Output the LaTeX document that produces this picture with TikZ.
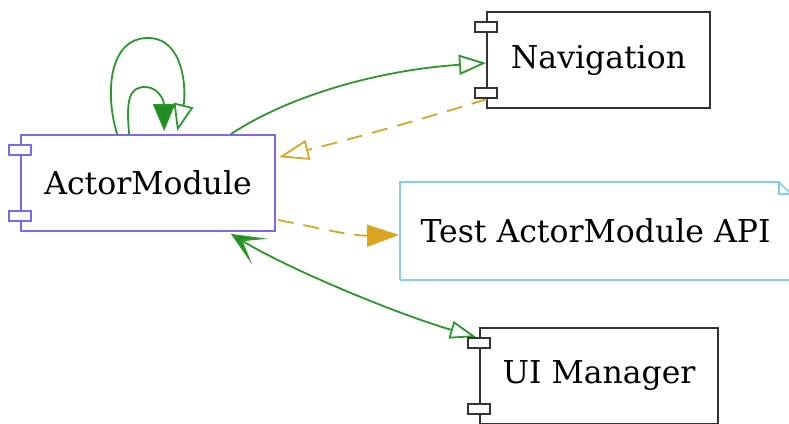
\documentclass[tikz,border=0pt]{standalone}
\usepackage{fontspec}
\setmainfont{DejaVu Serif}
\usetikzlibrary{arrows.meta,positioning,calc}
\definecolor{depgreen}{HTML}{2A992A}
\definecolor{headgreen}{HTML}{228B22}
\definecolor{deporange}{HTML}{DAA520}
\definecolor{modpurple}{HTML}{7B68EE}
\definecolor{testblue}{HTML}{87CEEB}
\definecolor{compgrey}{HTML}{333333}
\tikzset{
  component/.style={rectangle, draw=compgrey, line width=2pt, minimum height=96pt, inner sep=0pt, font=\fontsize{31.5}{36}\selectfont},
  port/.style={rectangle, draw=compgrey, line width=1.8pt, fill=white, minimum width=22pt, minimum height=10pt, inner sep=0pt},
  uses/.style={draw=depgreen, line width=1.8pt},
  tests/.style={draw=deporange, line width=1.8pt, dash pattern=on 16pt off 10pt},
  opengreen/.style={-{Triangle[open, fill=white, length=27pt, width=20pt]}},
  opengold/.style={-{Triangle[open, fill=white, length=30pt, width=20pt]}}
}
\newcommand{\compports}[2]{%
  \node (#1-pa) [port, draw=#2] at ($(#1.north west)+(0,16)$) {};
  \node (#1-pb) [port, draw=#2] at ($(#1.south west)+(0,-16)$) {};}
\begin{document}
\begin{tikzpicture}[x=1pt, y=-1pt]
  \useasboundingbox (0,0) rectangle (789,423);

  \node (am) [component, draw=modpurple, line width=1.7pt, minimum width=254pt] at (148,183) {ActorModule};
  \node (nav) [component, minimum width=223pt] at (598.5,60) {Navigation};
  \node (ui) [component, minimum width=238pt] at (599,376) {UI Manager};
  \node (test) [component, draw=none, minimum width=389pt] at (595.5,231) {Test ActorModule API};
  \draw [testblue, line width=1.7pt] (test.south west) |- ($(test.north east)+(-12,0)$)
    -- ($(test.north east)+(0,12)$) |- (test.south west);
  \draw [testblue, line width=1.7pt] ($(test.north east)+(-12,0)$) |- ($(test.north east)+(0,12)$);

  % self loops
  \draw [uses, opengreen] ($(am.north west)+(97,0)$) .. controls (105,95) and (108,38) .. (148,38)
    .. controls (186,38) and (186,95) .. ($(am.north west)+(157,-3)$);
  \draw [uses, -{Triangle[fill=headgreen, length=27pt, width=22pt]}] ($(am.north west)+(109,0)$)
    .. controls (126,100) and (129,87) .. (145,87) .. controls (158,87) and (164,100) .. ($(am.north west)+(144,-3)$);

  % dependencies
  \draw [uses, opengreen] ($(am.north east)+(-45,0)$) .. controls (290,95) and (380,70) .. ($(nav.west)+(0,3)$);
  \draw [tests, opengold] ($(nav.south west)+(1,-10)$) .. controls (420,120) and (340,142) .. ($(am.north east)+(3,23)$);
  \draw [tests, -{Triangle[fill=deporange, length=32pt, width=22pt]}] ($(am.east)+(2,37)$)
    .. controls (320,228) and (350,236) .. ($(test.west)+(-1,4)$);
  \draw [uses, {Stealth[fill=headgreen, length=34pt, width=30pt, inset=20pt]}-{Triangle[open, fill=white, length=26pt, width=18pt]}]
    ($(am.south east)+(-45,2)$) .. controls (290,270) and (400,315) .. ($(ui.north west)+(-3,10)$);

  \compports{am}{modpurple}
  \compports{nav}{compgrey}
  \compports{ui}{compgrey}
\end{tikzpicture}
\end{document}
